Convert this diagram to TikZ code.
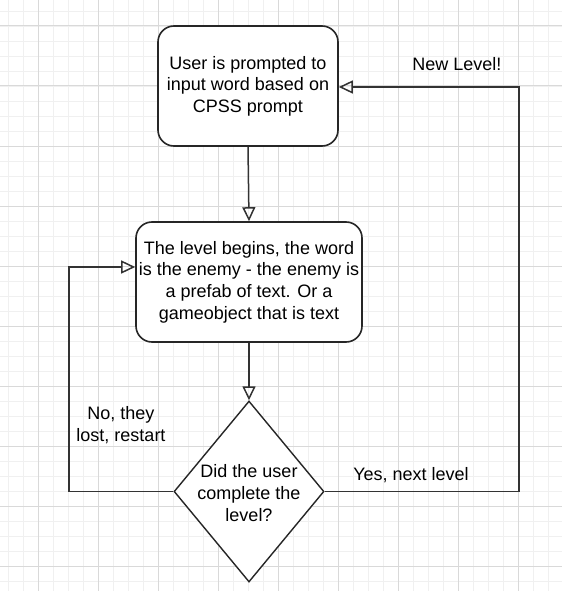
\documentclass[tikz,border=0pt]{standalone}
\usepackage{fontspec}
\setmainfont{Liberation Sans}
\usepackage{tikz}
\usetikzlibrary{shapes.geometric,arrows.meta}

\begin{document}
\begin{tikzpicture}[x=1pt, y=-1pt,
        font=\fontsize{18}{21.6}\selectfont,
        stepbox/.style={draw=black!85, line width=1.6pt, rounded corners=16pt, fill=white, align=center, inner sep=0pt},
        decision/.style={diamond, draw=black!85, line width=1.4pt, fill=white, inner sep=0pt},
        flow/.style={draw=black!80, line width=1.5pt, -{Triangle[open, length=14pt, width=13pt]}},
        gridminor/.style={draw=black!6, line width=0.8pt},
        gridmajor/.style={draw=black!15, line width=1pt}]
        \useasboundingbox (0,0) rectangle (562,591);
        \fill[white] (0,0) rectangle (562,591);

        % Draw the background grid
        \foreach \gx in {8,23,...,562} \draw[gridminor] (\gx,0) -- (\gx,591);
        \foreach \gy in {11,26,...,591} \draw[gridminor] (0,\gy) -- (562,\gy);
        \foreach \gx in {38,98,...,562} \draw[gridmajor] (\gx,0) -- (\gx,591);
        \foreach \gy in {26,86,...,591} \draw[gridmajor] (0,\gy) -- (562,\gy);

        % The steps of the game
        \node[stepbox, minimum width=180pt, minimum height=120pt] (prompt) at (248,86) {User is prompted to\\input word based on\\CPSS prompt};
        \node[stepbox, minimum width=226pt, minimum height=120pt] (level) at (249,282) {The level begins, the word\\is the enemy - the enemy is\\a prefab of text. Or a\\gameobject that is text};

        % The check at the end of a level
        \node[decision, minimum width=150pt, minimum height=181pt] (check) at (249,491.5) {};
        \node[align=center, inner sep=0pt] (checktext) at (249,493) {Did the user\\complete the\\level?};

        % Straight down
        \draw[flow] (prompt.south) -- (level.north);
        \draw[flow] (level.south) -- (check.north);

        % Lost: back round to the level
        \coordinate (lostturn) at (69,267);
        \draw[flow] (check.west) -| (lostturn) -- (lostturn -| level.west);
        \node[align=center, inner sep=0pt] (lostlabel) at (121,425) {No, they\\lost, restart};

        % Won: back round to the prompt
        \coordinate (nextturn) at (519,87);
        \draw[flow] (check.east) -| (nextturn) -- (nextturn -| prompt.east);
        \node[inner sep=0pt] (yeslabel) at (411,475) {Yes, next level};
        \node[inner sep=0pt] (newlabel) at (457,64) {New Level!};
    \end{tikzpicture}
\end{document}
